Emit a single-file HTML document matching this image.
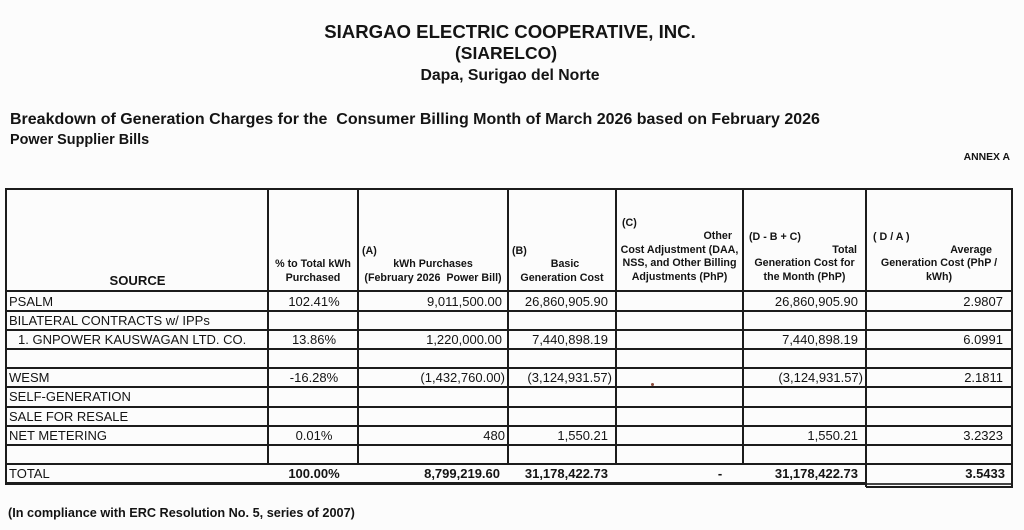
<!DOCTYPE html>
<html>
<head>
<meta charset="utf-8">
<style>
html,body{margin:0;padding:0;background:#fcfcfc;}
#p{position:relative;width:1024px;height:530px;overflow:hidden;background:#fcfcfc;font-family:"Liberation Sans",Arial,sans-serif;color:#141414;}
#p div{position:absolute;white-space:nowrap;}
.hl{background:#1c1c1c;height:2px;}
.vl{background:#1c1c1c;width:2px;}
.h{font-size:10.7px;font-weight:bold;height:14px;line-height:14px;}
.r{font-size:13px;height:19px;line-height:19px;}
.bd{font-weight:bold;}
.c{text-align:center;}
.rt{text-align:right;}
</style>
</head>
<body>
<div id="p">
<!-- titles -->
<div class="c bd" style="left:260px;width:500px;top:21px;height:22px;line-height:22px;font-size:18.6px;">SIARGAO ELECTRIC COOPERATIVE, INC.</div>
<div class="c bd" style="left:256px;width:500px;top:42px;height:22px;line-height:22px;font-size:17.5px;">(SIARELCO)</div>
<div class="c bd" style="left:260px;width:500px;top:66px;height:20px;line-height:20px;font-size:15.8px;">Dapa, Surigao del Norte</div>
<div class="bd" style="left:10px;top:110px;height:20px;line-height:20px;font-size:16px;">Breakdown of Generation Charges for the&nbsp; Consumer Billing Month of March 2026 based on February 2026</div>
<div class="bd" style="left:10px;top:131px;height:18px;line-height:18px;font-size:14.4px;">Power Supplier Bills</div>
<div class="bd rt" style="right:14px;top:151px;height:14px;line-height:14px;font-size:10.4px;">ANNEX A</div>

<!-- horizontal lines -->
<div class="hl" style="left:5px;width:1008px;top:188px;"></div>
<div class="hl" style="left:5px;width:1008px;top:290px;"></div>
<div class="hl" style="left:5px;width:1008px;top:310px;height:1.6px;"></div>
<div class="hl" style="left:5px;width:1008px;top:329px;height:1.6px;"></div>
<div class="hl" style="left:5px;width:1008px;top:348px;height:1.6px;"></div>
<div class="hl" style="left:5px;width:1008px;top:367px;height:1.6px;"></div>
<div class="hl" style="left:5px;width:1008px;top:386px;height:1.6px;"></div>
<div class="hl" style="left:5px;width:1008px;top:406px;height:1.6px;"></div>
<div class="hl" style="left:5px;width:1008px;top:425px;height:1.6px;"></div>
<div class="hl" style="left:5px;width:1008px;top:444px;height:1.6px;"></div>
<div class="hl" style="left:5px;width:1008px;top:463px;"></div>
<div class="hl" style="left:5px;width:862px;top:482px;height:3px;"></div>
<div class="hl" style="left:866px;width:147px;top:483px;height:1.5px;background:#444;"></div>
<div class="hl" style="left:866px;width:147px;top:485.5px;height:2px;"></div>

<!-- vertical lines -->
<div class="vl" style="left:5px;top:188px;height:297px;"></div>
<div class="vl" style="left:267px;top:188px;height:277px;"></div>
<div class="vl" style="left:357px;top:188px;height:277px;"></div>
<div class="vl" style="left:507px;top:188px;height:277px;"></div>
<div class="vl" style="left:615px;top:188px;height:277px;"></div>
<div class="vl" style="left:742px;top:188px;height:277px;"></div>
<div class="vl" style="left:865px;top:188px;height:299px;"></div>
<div class="vl" style="left:1011px;top:188px;height:299px;"></div>

<!-- header -->
<div class="bd c" style="left:7px;width:261px;top:272px;height:18px;line-height:18px;font-size:13.1px;">SOURCE</div>

<div class="h c" style="left:269px;width:88px;top:257px;">% to Total kWh</div>
<div class="h c" style="left:269px;width:88px;top:271px;">Purchased</div>

<div class="h" style="left:362px;top:244px;">(A)</div>
<div class="h c" style="left:359px;width:148px;top:257px;">kWh Purchases</div>
<div class="h c" style="left:359px;width:148px;top:271px;">(February 2026&nbsp; Power Bill)</div>

<div class="h" style="left:512px;top:244px;">(B)</div>
<div class="h c" style="left:520px;width:90px;top:257px;">Basic</div>
<div class="h c" style="left:509px;width:106px;top:271px;">Generation Cost</div>

<div class="h" style="left:622px;top:216px;">(C)</div>
<div class="h rt" style="right:292px;top:229px;">Other</div>
<div class="h c" style="left:617px;width:125px;top:243px;">Cost Adjustment (DAA,</div>
<div class="h c" style="left:617px;width:125px;top:256px;">NSS, and Other Billing</div>
<div class="h c" style="left:617px;width:125px;top:270px;">Adjustments (PhP)</div>

<div class="h" style="left:749px;top:230px;">(D - B + C)</div>
<div class="h rt" style="right:167px;top:243px;">Total</div>
<div class="h c" style="left:744px;width:121px;top:256px;">Generation Cost for</div>
<div class="h c" style="left:744px;width:121px;top:270px;">the Month (PhP)</div>

<div class="h" style="left:873px;top:230px;">( D / A )</div>
<div class="h rt" style="right:32px;top:243px;">Average</div>
<div class="h c" style="left:867px;width:144px;top:256px;">Generation Cost (PhP /</div>
<div class="h c" style="left:867px;width:144px;top:270px;">kWh)</div>

<!-- row 1 PSALM -->
<div class="r" style="left:9px;top:292px;">PSALM</div>
<div class="r c" style="left:269px;width:90px;top:292px;">102.41%</div>
<div class="r rt" style="right:522px;top:292px;">9,011,500.00</div>
<div class="r rt" style="right:416px;top:292px;">26,860,905.90</div>
<div class="r rt" style="right:166px;top:292px;">26,860,905.90</div>
<div class="r rt" style="right:21px;top:292px;">2.9807</div>

<!-- row 2 -->
<div class="r" style="left:9px;top:311px;">BILATERAL CONTRACTS w/ IPPs</div>

<!-- row 3 -->
<div class="r" style="left:18px;top:330px;">1. GNPOWER KAUSWAGAN LTD. CO.</div>
<div class="r c" style="left:269px;width:90px;top:330px;">13.86%</div>
<div class="r rt" style="right:522px;top:330px;">1,220,000.00</div>
<div class="r rt" style="right:416px;top:330px;">7,440,898.19</div>
<div class="r rt" style="right:166px;top:330px;">7,440,898.19</div>
<div class="r rt" style="right:21px;top:330px;">6.0991</div>

<!-- row 5 WESM -->
<div class="r" style="left:9px;top:368px;">WESM</div>
<div class="r c" style="left:269px;width:90px;top:368px;">-16.28%</div>
<div class="r rt" style="right:519px;top:368px;">(1,432,760.00)</div>
<div class="r rt" style="right:412px;top:368px;">(3,124,931.57)</div>
<div class="r rt" style="right:161px;top:368px;">(3,124,931.57)</div>
<div class="r rt" style="right:21px;top:368px;">2.1811</div>
<div style="left:651px;top:383px;width:3px;height:3px;background:#8a4a3a;border-radius:50%;"></div>

<!-- row 6,7 -->
<div class="r" style="left:9px;top:387px;">SELF-GENERATION</div>
<div class="r" style="left:9px;top:407px;">SALE FOR RESALE</div>

<!-- row 8 NET METERING -->
<div class="r" style="left:9px;top:426px;">NET METERING</div>
<div class="r c" style="left:269px;width:90px;top:426px;">0.01%</div>
<div class="r rt" style="right:519px;top:426px;">480</div>
<div class="r rt" style="right:416px;top:426px;">1,550.21</div>
<div class="r rt" style="right:166px;top:426px;">1,550.21</div>
<div class="r rt" style="right:21px;top:426px;">3.2323</div>

<!-- total -->
<div class="r" style="left:9px;top:464px;">TOTAL</div>
<div class="r c bd" style="left:269px;width:90px;top:464px;">100.00%</div>
<div class="r rt bd" style="right:524px;top:464px;">8,799,219.60</div>
<div class="r rt bd" style="right:416px;top:464px;">31,178,422.73</div>
<div class="r c bd" style="left:710px;width:20px;top:464px;">-</div>
<div class="r rt bd" style="right:166px;top:464px;">31,178,422.73</div>
<div class="r rt bd" style="right:19px;top:464px;">3.5433</div>

<!-- footer -->
<div class="bd" style="left:8px;top:504px;height:18px;line-height:18px;font-size:12.7px;">(In compliance with ERC Resolution No. 5, series of 2007)</div>
</div>
</body>
</html>
